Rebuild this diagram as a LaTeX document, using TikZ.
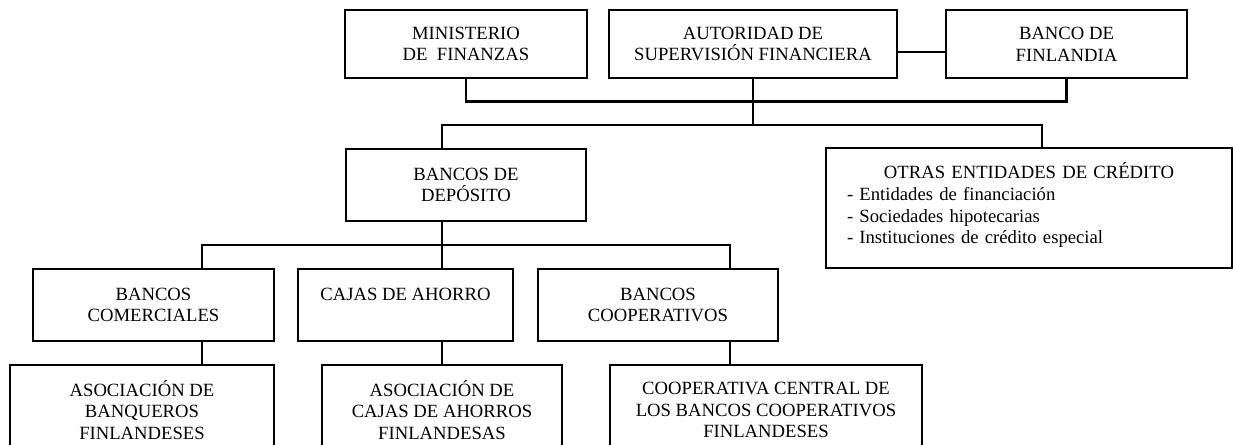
\documentclass[tikz,border=0pt]{standalone}
\usepackage{fontspec}
\setmainfont{Liberation Serif}
\usepackage{tikz}
\newdimen\pxu
\pxu=0.75pt

\begin{document}
\begin{tikzpicture}[x=0.75pt,y=-0.75pt,
    caja/.style={draw,line width=2.2pt,inner sep=0pt,align=center,
      font=\fontsize{14}{16.3}\selectfont},
    linea/.style={line width=2.2pt}]
  \useasboundingbox (0,0) rectangle (1233,444);
  \clip (0,0) rectangle (1233,444);
  % nivel superior
  \node[caja,minimum width=242\pxu,minimum height=68\pxu] (min) at (466,44) {MINISTERIO\\DE~ FINANZAS};
  \node[caja,minimum width=288\pxu,minimum height=68\pxu] (aut) at (753,44) {AUTORIDAD DE\\SUPERVISIÓN FINANCIERA};
  \node[caja,minimum width=241\pxu,minimum height=68\pxu] (bfin) at (1066.5,44) {BANCO DE\\FINLANDIA};
  % segundo nivel
  \node[caja,align=left,text width=364\pxu,minimum width=406\pxu,minimum height=120\pxu] (otras) at (1029,208)
    {\makebox[\linewidth]{OTRAS ENTIDADES DE CRÉDITO}\\
     - Entidades de financiación\\
     - Sociedades hipotecarias\\
     - Instituciones de crédito especial\\[-12\pxu]\mbox{}};
  \node[caja,minimum width=240\pxu,minimum height=72\pxu] (dep) at (466,185) {BANCOS DE\\DEPÓSITO};
  % tipos de bancos
  \node[caja,minimum width=241\pxu,minimum height=72\pxu] (bcom) at (153.5,305) {BANCOS\\COMERCIALES};
  \node[caja,minimum width=215\pxu,minimum height=72\pxu] (cajas) at (405.5,305) {CAJAS DE AHORRO\\\mbox{}};
  \node[caja,minimum width=240\pxu,minimum height=72\pxu] (bcoop) at (658,305) {BANCOS\\COOPERATIVOS};
  % asociaciones
  \node[caja,minimum width=264\pxu,minimum height=90\pxu] (abf) at (142,410) {ASOCIACIÓN DE\\BANQUEROS\\FINLANDESES};
  \node[caja,minimum width=240\pxu,minimum height=90\pxu] (acaf) at (442,410) {ASOCIACIÓN DE\\CAJAS DE AHORROS\\FINLANDESAS};
  \node[caja,minimum width=312\pxu,minimum height=90\pxu] (ccbc) at (766,410) {COOPERATIVA CENTRAL DE\\LOS BANCOS COOPERATIVOS\\FINLANDESES};
  % puntos de las lineas
  \coordinate (s1) at (753,125);
  \coordinate (ko) at (1042,125);
  \coordinate (d1) at (442,245);
  \coordinate (kc) at (202,245);
  \coordinate (kp) at (730,245);
  % conexiones
  \draw[linea] ([yshift=-6pt]aut.east) -- ([yshift=-6pt]bfin.west);
  \draw[linea] (min.south) -- ++(0,22) -| (bfin.south);
  \draw[linea] (aut.south) -- (s1);
  \draw[linea] (dep.north -| d1) |- (s1) -| (otras.north -| ko);
  \draw[linea] (dep.south -| d1) -- (d1);
  \draw[linea] (bcom.north -| kc) |- (kp) -- (bcoop.north -| kp);
  \draw[linea] (d1) -- (cajas.north -| d1);
  \draw[linea] (bcom.south -| kc) -- (abf.north -| kc);
  \draw[linea] (cajas.south -| d1) -- (acaf.north);
  \draw[linea] (bcoop.south -| kp) -- (ccbc.north -| kp);
\end{tikzpicture}
\end{document}
